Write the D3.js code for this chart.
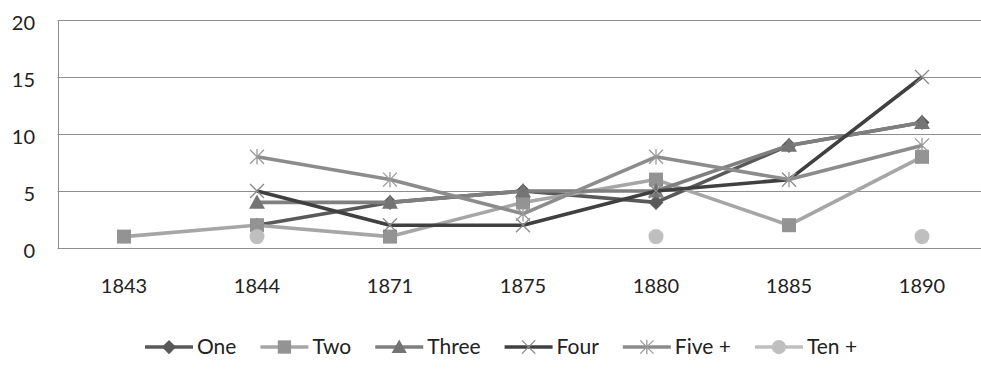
<!DOCTYPE html>
<html>
<head>
<meta charset="utf-8">
<script src="https://cdn.jsdelivr.net/npm/d3@7/dist/d3.min.js"></script>
<style>
  html, body { margin: 0; padding: 0; background: #fff; }
  svg { display: block; }
  text { font-family: Lato, "Open Sans", sans-serif; fill: #222; }
</style>
</head>
<body>
<svg id="chart" width="981" height="376"></svg>
<script>
// Categories (years) and the count for each household-size series
const years = ["1843", "1844", "1871", "1875", "1880", "1885", "1890"];
const yTicks = [0, 5, 10, 15, 20];

const one   = [null, 2, 4, 5, 4, 9, 11];
const two   = [1, 2, 1, 4, 6, 2, 8];
const three = [null, 4, 4, 5, 5, 9, 11];
const four  = [null, 5, 2, 2, 5, 6, 15];
const five  = [null, 8, 6, 3, 8, 6, 9];
const ten   = [null, 1, null, null, 1, null, 1];

const seriesNames = ["One", "Two", "Three", "Four", "Five +", "Ten +"];
const seriesValues = [one, two, three, four, five, ten];

const styles = [
  { line: "#595959", mark: "#595959", shape: "diamond" },
  { line: "#a6a6a6", mark: "#939393", shape: "square" },
  { line: "#7f7f7f", mark: "#747474", shape: "triangle" },
  { line: "#404040", mark: "#8a8a8a", shape: "x" },
  { line: "#8c8c8c", mark: "#9a9a9a", shape: "star" },
  { line: "#bfbfbf", mark: "#bfbfbf", shape: "circle" }
];

const svg = d3.select("#chart");
const plot = { left: 57.5, right: 988.5, top: 20, bottom: 248 };

const x = d3.scaleBand().domain(years).range([plot.left, plot.right]);
const y = d3.scaleLinear().domain([0, 20]).range([plot.bottom, plot.top]);
const cx = d => x(d) + x.bandwidth() / 2;

// Horizontal gridlines
svg.append("g")
  .selectAll("line")
  .data(yTicks)
  .join("line")
  .attr("x1", plot.left).attr("x2", plot.right)
  .attr("y1", d => Math.round(y(d)) + 0.5).attr("y2", d => Math.round(y(d)) + 0.5)
  .attr("stroke", "#8e8e8e").attr("stroke-width", 1);

// Left frame line
svg.append("line")
  .attr("x1", 58.5).attr("x2", 58.5)
  .attr("y1", y(20)).attr("y2", y(0) + 0.5)
  .attr("stroke", "#8e8e8e");

// Y axis labels
const yAxis = d3.axisLeft(y).tickValues(yTicks).tickSize(0).tickPadding(0);
const gy = svg.append("g").attr("transform", "translate(35,0)").call(yAxis);
gy.select(".domain").remove();
gy.selectAll("text").style("font-size", "20px").attr("fill", "#222").attr("dy", "0.45em");

// X axis labels
const xAxis = d3.axisBottom(x).tickSize(0).tickPadding(0);
const gx = svg.append("g").attr("transform", "translate(0,278)").call(xAxis);
gx.select(".domain").remove();
gx.selectAll("text").style("font-size", "20px").attr("fill", "#222").attr("dy", "0.75em");

// Marker drawing
function drawMarker(g, shape, color, px, py, scale) {
  const s = scale || 1;
  if (shape === "diamond") {
    const r = 7.5 * s;
    g.append("path").attr("d", `M${px},${py - r}L${px + r},${py}L${px},${py + r}L${px - r},${py}Z`).attr("fill", color);
  } else if (shape === "square") {
    const h = 7 * s;
    g.append("rect").attr("x", px - h).attr("y", py - h).attr("width", 2 * h).attr("height", 2 * h).attr("fill", color);
  } else if (shape === "triangle") {
    const h = 8 * s;
    g.append("path").attr("d", `M${px},${py - h}L${px + h},${py + h * 0.8}L${px - h},${py + h * 0.8}Z`).attr("fill", color);
  } else if (shape === "circle") {
    g.append("circle").attr("cx", px).attr("cy", py).attr("r", 7.5 * s).attr("fill", color);
  } else if (shape === "x") {
    const r = 7 * s;
    g.append("path").attr("d", `M${px - r},${py - r}L${px + r},${py + r}M${px + r},${py - r}L${px - r},${py + r}`)
      .attr("stroke", color).attr("stroke-width", 1.3).attr("fill", "none");
  } else if (shape === "star") {
    const r = 7 * s;
    g.append("path").attr("d", `M${px - r},${py - r}L${px + r},${py + r}M${px + r},${py - r}L${px - r},${py + r}M${px},${py - r * 1.1}L${px},${py + r * 1.1}`)
      .attr("stroke", color).attr("stroke-width", 1.3).attr("fill", "none");
  }
}

const line = d3.line()
  .defined(d => d.v !== null)
  .x(d => cx(d.year))
  .y(d => y(d.v));

seriesValues.forEach((vals, i) => {
  const st = styles[i];
  const pts = years.map((yr, j) => ({ year: yr, v: vals[j] }));
  const g = svg.append("g").attr("class", "series");
  g.append("path")
    .datum(pts)
    .attr("d", line)
    .attr("fill", "none")
    .attr("stroke", st.line)
    .attr("stroke-width", 3.6)
    .attr("stroke-linejoin", "round");
  pts.filter(d => d.v !== null).forEach(d => {
    drawMarker(g, st.shape, st.mark, cx(d.year), y(d.v));
  });
});

// Legend
const legend = svg.append("g").attr("class", "legend");
let lx = 145;
const ly = 347;
seriesNames.forEach((name, i) => {
  const st = styles[i];
  const item = legend.append("g");
  item.append("line")
    .attr("x1", lx).attr("x2", lx + 48)
    .attr("y1", ly).attr("y2", ly)
    .attr("stroke", st.line).attr("stroke-width", 3.6);
  drawMarker(item, st.shape, st.mark, lx + 24, ly, 0.95);
  const t = item.append("text")
    .attr("x", lx + 52).attr("y", ly)
    .attr("dy", "0.35em")
    .style("font-size", "21px")
    .text(name);
  lx += 52 + t.node().getComputedTextLength() + 24;
});
</script>
</body>
</html>
